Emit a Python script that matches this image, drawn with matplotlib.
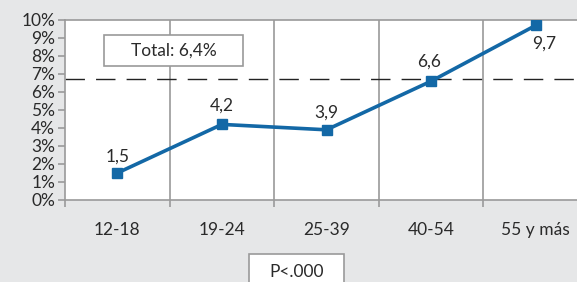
import matplotlib.pyplot as plt
import matplotlib.patches as mpatches
import numpy as np

plt.rcParams['font.family'] = ['Lato', 'DejaVu Sans']

categories = ['12-18', '19-24', '25-39', '40-54', '55 y más']
values = [1.5, 4.2, 3.9, 6.6, 9.7]
value_labels = ['1,5', '4,2', '3,9', '6,6', '9,7']
total_line = 6.75
yticks = list(range(0, 11))

W, H = 577, 282
fig = plt.figure(figsize=(W / 100, H / 100), dpi=100)
fig.patch.set_facecolor('#e6e7e8')

# plot area runs past right edge of the figure, as in the original
left, right, top, bottom = 65, 588, 20, 200
ax = fig.add_axes([left / W, 1 - bottom / H, (right - left) / W, (bottom - top) / H])
ax.set_facecolor('white')

x = np.arange(len(categories))
ax.set_xlim(-0.5, len(categories) - 0.5)
ax.set_ylim(0, 10)

# vertical grid at category boundaries
for b in np.arange(0.5, len(categories) - 0.5, 1):
    ax.axvline(b, color='#9a9a9a', lw=1.2, zorder=1)

ax.axhline(total_line, color='#222222', lw=1, dashes=(14, 8), zorder=2)

ax.plot(x, values, color='#1368a6', lw=2.6, marker='s', markersize=7.5, zorder=3)

offsets = [(0, 11.5), (0, 13.5), (0, 12.5), (-1.5, 14), (6, -13)]
for xi, v, lab, (dx, dy) in zip(x, values, value_labels, offsets):
    ax.annotate(lab, (xi, v), xytext=(dx, dy), textcoords='offset points',
                ha='center', va='center', fontsize=12.5, color='#2a2a2a')

for s in ax.spines.values():
    s.set_color('#9a9a9a')
    s.set_linewidth(1.2)

ax.set_yticks(yticks)
ax.set_yticklabels([f'{t}%' for t in yticks])
ax.set_xticks(np.arange(-0.5, len(categories), 1))
ax.set_xticklabels([])
ax.set_xticks(x, minor=True)
ax.set_xticklabels(categories, minor=True)
ax.tick_params(axis='x', which='major', length=5, color='#9a9a9a', width=1.2)
ax.tick_params(axis='x', which='minor', length=0, pad=16, labelsize=12.5, labelcolor='#2a2a2a')
ax.tick_params(axis='y', length=5, color='#9a9a9a', width=1.2, pad=2,
               labelsize=12.5, labelcolor='#2a2a2a')


def label_box(x0, y0, x1, y1, text):
    fig.patches.append(mpatches.Rectangle((x0 / W, 1 - y1 / H), (x1 - x0) / W, (y1 - y0) / H,
                                          transform=fig.transFigure, fc='white',
                                          ec='#9a9a9a', lw=1.2, zorder=5))
    fig.text((x0 + x1) / 2 / W, 1 - (y0 + y1) / 2 / H, text, ha='center', va='center',
             fontsize=12.5, color='#2a2a2a', zorder=6)


label_box(104, 35, 243, 66, 'Total: 6,4%')
label_box(249, 254, 344, 290, 'P<.000')

plt.savefig('out.png', dpi=100, facecolor=fig.get_facecolor())
